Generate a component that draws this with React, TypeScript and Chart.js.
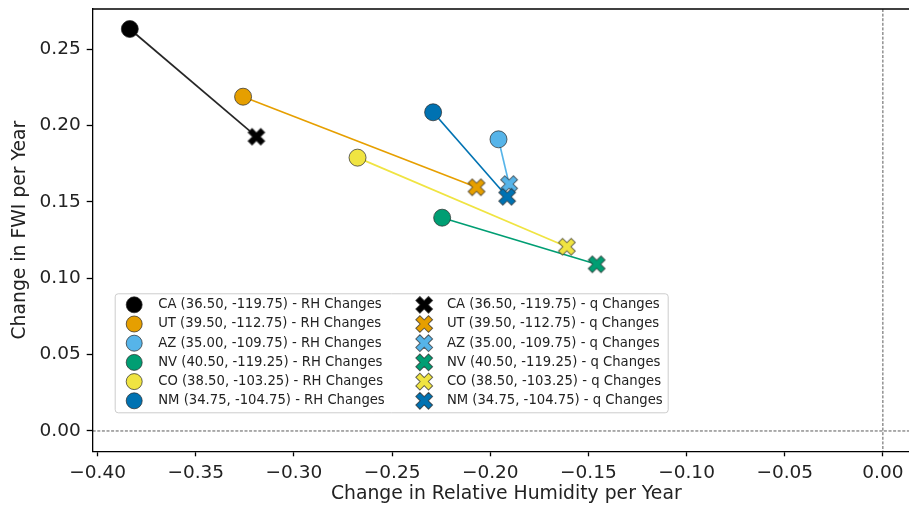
import { useEffect, useRef } from "react";
import { Chart, registerables } from "chart.js";

Chart.register(...registerables);

const states = ["CA", "UT", "AZ", "NV", "CO", "NM"];
const coords = [
  "(36.50, -119.75)",
  "(39.50, -112.75)",
  "(35.00, -109.75)",
  "(40.50, -119.25)",
  "(38.50, -103.25)",
  "(34.75, -104.75)",
];
const colors = ["#000000", "#E69F00", "#56B4E9", "#009E73", "#F0E442", "#0072B2"];
const rhX = [-0.3836, -0.3259, -0.1958, -0.2245, -0.2676, -0.2291];
const rhY = [0.2631, 0.2188, 0.1909, 0.1396, 0.1789, 0.2086];
const qX = [-0.3191, -0.207, -0.1904, -0.1458, -0.161, -0.1914];
const qY = [0.1926, 0.1595, 0.1616, 0.1091, 0.1206, 0.1533];
const xTicks = [-0.4, -0.35, -0.3, -0.25, -0.2, -0.15, -0.1, -0.05, 0.0];
const yTicks = [0.0, 0.05, 0.1, 0.15, 0.2, 0.25];
const xTitle = "Change in Relative Humidity per Year";
const yTitle = "Change in FWI per Year";
const rhSuffix = " - RH Changes";
const qSuffix = " - q Changes";
// full x-limit of the original figure (its right edge lies just outside the picture)
const xFigMax = 0.0188;

const FONT = "'DejaVu Sans', sans-serif";
const EDGE = "rgba(40,40,40,0.7)";

function drawX(ctx: CanvasRenderingContext2D, cx: number, cy: number, fill: string) {
  const d = 9;
  const t = 2.9;
  ctx.save();
  ctx.translate(cx, cy);
  ctx.rotate(Math.PI / 4);
  ctx.beginPath();
  ctx.moveTo(-t, -d);
  ctx.lineTo(t, -d);
  ctx.lineTo(t, -t);
  ctx.lineTo(d, -t);
  ctx.lineTo(d, t);
  ctx.lineTo(t, t);
  ctx.lineTo(t, d);
  ctx.lineTo(-t, d);
  ctx.lineTo(-t, t);
  ctx.lineTo(-d, t);
  ctx.lineTo(-d, -t);
  ctx.lineTo(-t, -t);
  ctx.closePath();
  ctx.fillStyle = fill;
  ctx.fill();
  ctx.lineWidth = 1;
  ctx.strokeStyle = EDGE;
  ctx.stroke();
  ctx.restore();
}

function makeXImage(fill: string): HTMLCanvasElement {
  const c = document.createElement("canvas");
  c.width = 22;
  c.height = 22;
  const ctx = c.getContext("2d")!;
  drawX(ctx, 11, 11, fill);
  return c;
}

function drawCircle(ctx: CanvasRenderingContext2D, cx: number, cy: number, r: number, fill: string) {
  ctx.beginPath();
  ctx.arc(cx, cy, r, 0, Math.PI * 2);
  ctx.fillStyle = fill;
  ctx.fill();
  ctx.lineWidth = 1;
  ctx.strokeStyle = EDGE;
  ctx.stroke();
}

const fmt = (v: number) => {
  const s = Math.abs(v).toFixed(2);
  return v < -1e-9 ? "\u2212" + s : s;
};

const framePlugin = {
  id: "frameAndExtras",
  beforeDatasetsDraw(chart: any) {
    const { ctx, chartArea, scales } = chart;
    const x0 = scales.x.getPixelForValue(0);
    const y0 = scales.y.getPixelForValue(0);
    ctx.save();
    ctx.strokeStyle = "rgba(0,0,0,0.65)";
    ctx.lineWidth = 1;
    ctx.setLineDash([3, 1.6]);
    ctx.beginPath();
    ctx.moveTo(x0, chartArea.top);
    ctx.lineTo(x0, chartArea.bottom);
    ctx.moveTo(chartArea.left, y0);
    ctx.lineTo(chartArea.right, y0);
    ctx.stroke();
    ctx.restore();
  },
  afterDraw(chart: any) {
    const { ctx, chartArea, scales } = chart;
    ctx.save();
    ctx.strokeStyle = "#000";
    ctx.lineWidth = 1.3;
    ctx.beginPath();
    ctx.moveTo(chartArea.left, chartArea.top);
    ctx.lineTo(chartArea.right, chartArea.top);
    ctx.stroke();

    // x-axis title, centred on the original figure's full axes width
    const midX = (chartArea.left + scales.x.getPixelForValue(xFigMax)) / 2;
    ctx.font = `18.8px ${FONT}`;
    ctx.fillStyle = "#222";
    ctx.textAlign = "center";
    ctx.textBaseline = "middle";
    ctx.fillText(xTitle, midX, chart.height - 16);

    // legend
    const boxL = chartArea.left + 22.5;
    const boxB = chartArea.bottom - 38.5;
    const rowH = 19.2;
    const boxH = 119;
    const boxT = boxB - boxH;
    const boxW = 553;
    const r = 3;
    ctx.beginPath();
    ctx.moveTo(boxL + r, boxT);
    ctx.arcTo(boxL + boxW, boxT, boxL + boxW, boxT + boxH, r);
    ctx.arcTo(boxL + boxW, boxT + boxH, boxL, boxT + boxH, r);
    ctx.arcTo(boxL, boxT + boxH, boxL, boxT, r);
    ctx.arcTo(boxL, boxT, boxL + boxW, boxT, r);
    ctx.closePath();
    ctx.fillStyle = "rgba(255,255,255,0.8)";
    ctx.fill();
    ctx.strokeStyle = "#cccccc";
    ctx.lineWidth = 1;
    ctx.stroke();

    ctx.font = `13.2px ${FONT}`;
    ctx.textBaseline = "middle";
    ctx.textAlign = "left";
    for (let i = 0; i < states.length; i++) {
      const cy = boxT + 11 + i * rowH;
      drawCircle(ctx, boxL + 19, cy, 8, colors[i]);
      ctx.fillStyle = "#222";
      ctx.fillText(`${states[i]} ${coords[i]}${rhSuffix}`, boxL + 43, cy);
      drawX(ctx, boxL + 309, cy, colors[i]);
      ctx.fillStyle = "#222";
      ctx.fillText(`${states[i]} ${coords[i]}${qSuffix}`, boxL + 331.7, cy);
    }
    ctx.restore();
  },
};

export default function App() {
  const ref = useRef<HTMLCanvasElement | null>(null);
  useEffect(() => {
    const canvas = ref.current!;
    const xImgs = colors.map((c) => makeXImage(c));
    const datasets = states.map((s, i) => ({
      label: s,
      data: [
        { x: rhX[i], y: rhY[i] },
        { x: qX[i], y: qY[i] },
      ],
      showLine: true,
      borderColor: colors[i] === "#000000" ? "rgba(0,0,0,0.85)" : colors[i],
      borderWidth: 1.7,
      pointStyle: ["circle", xImgs[i]] as any,
      pointRadius: 8.5,
      pointBackgroundColor: colors[i],
      pointBorderColor: EDGE,
      pointBorderWidth: 1,
      order: states.length - 1 - i,
    }));
    const chart = new Chart(canvas, {
      type: "scatter",
      data: { datasets: datasets as any },
      options: {
        responsive: false,
        devicePixelRatio: 1,
        animation: false,
        events: [],
        layout: { autoPadding: false, padding: { top: 9, right: 0, left: 0, bottom: 0 } },
        plugins: { legend: { display: false }, tooltip: { enabled: false } },
        scales: {
          x: {
            type: "linear",
            min: -0.4025,
            max: 0.0133,
            afterBuildTicks: (axis: any) => {
              axis.ticks = xTicks.map((v) => ({ value: v }));
            },
            afterFit: (axis: any) => {
              axis.height = 58.7;
              axis.paddingLeft = 0;
              axis.paddingRight = 0;
            },
            ticks: {
              autoSkip: false,
              maxRotation: 0,
              padding: 6,
              color: "#222",
              font: { family: FONT, size: 18.5 },
              callback: (v: any) => fmt(Number(v)),
            },
            grid: { display: true, drawOnChartArea: false, drawTicks: true, tickLength: 5, color: "#000", tickWidth: 1.3 },
            border: { display: true, color: "#000", width: 1.3 },
            title: { display: false },
          },
          y: {
            type: "linear",
            min: -0.0133,
            max: 0.2762,
            afterBuildTicks: (axis: any) => {
              axis.ticks = yTicks.map((v) => ({ value: v }));
            },
            afterFit: (axis: any) => {
              axis.width = 92.7;
              axis.paddingTop = 0;
              axis.paddingBottom = 0;
            },
            ticks: {
              autoSkip: false,
              padding: 6,
              color: "#222",
              font: { family: FONT, size: 18.5 },
              callback: (v: any) => fmt(Number(v)),
            },
            grid: { display: true, drawOnChartArea: false, drawTicks: true, tickLength: 6, color: "#000", tickWidth: 1.3 },
            border: { display: true, color: "#000", width: 1.3 },
            title: {
              display: true,
              text: yTitle,
              color: "#222",
              font: { family: FONT, size: 18.8 },
              padding: { top: 9, bottom: 0 },
            },
          },
        },
      },
      plugins: [framePlugin],
    });
    return () => chart.destroy();
  }, []);
  return (
    <div style={{ position: "absolute", left: 0, top: 0, width: 909, height: 510, overflow: "hidden", background: "#fff" }}>
      <canvas ref={ref} width={909} height={510} style={{ width: 909, height: 510, display: "block" }} />
    </div>
  );
}
